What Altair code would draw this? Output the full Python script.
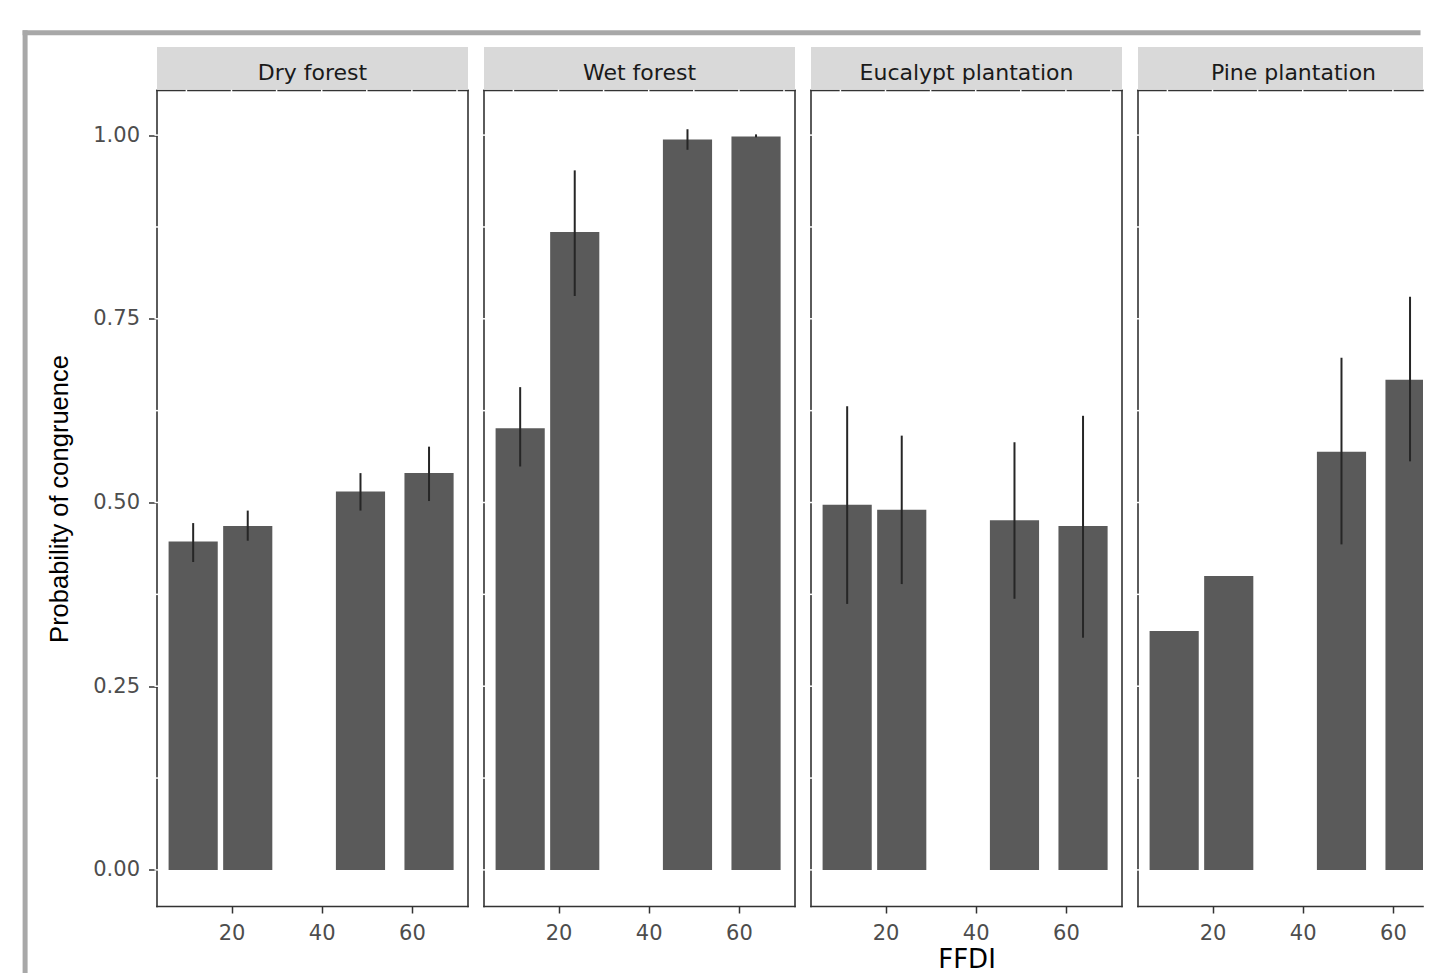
import altair as alt
import pandas as pd

# ---- data ----
panels = ["Dry forest", "Wet forest", "Eucalypt plantation", "Pine plantation"]
ffdi = [11.5, 23.6, 48.6, 63.8]          # bar centres (FFDI)
bar_half = 5.45                          # half bar width in FFDI units

dry_p = [0.447, 0.468, 0.515, 0.540]
dry_lo = [0.419, 0.448, 0.489, 0.502]
dry_hi = [0.472, 0.489, 0.540, 0.576]

wet_p = [0.601, 0.868, 0.994, 0.998]
wet_lo = [0.549, 0.781, 0.980, 0.997]
wet_hi = [0.657, 0.952, 1.008, 1.001]

euc_p = [0.497, 0.490, 0.476, 0.468]
euc_lo = [0.362, 0.389, 0.369, 0.316]
euc_hi = [0.631, 0.591, 0.582, 0.618]

pine_p = [0.325, 0.400, 0.569, 0.667]
pine_lo = [None, None, 0.443, 0.556]
pine_hi = [None, None, 0.697, 0.780]

y_ticks = [0.0, 0.25, 0.5, 0.75, 1.0]
x_ticks = [20, 40, 60]
x_grid = [10, 20, 30, 40, 50, 60, 70]
y_grid = [0.0, 0.125, 0.25, 0.375, 0.5, 0.625, 0.75, 0.875, 1.0]

series = {
    "Dry forest": (dry_p, dry_lo, dry_hi),
    "Wet forest": (wet_p, wet_lo, wet_hi),
    "Eucalypt plantation": (euc_p, euc_lo, euc_hi),
    "Pine plantation": (pine_p, pine_lo, pine_hi),
}

rows = []
for name in panels:
    p, lo, hi = series[name]
    for f, pv, l, h in zip(ffdi, p, lo, hi):
        rows.append({"panel": name, "ffdi": f, "x0": f - bar_half, "x1": f + bar_half,
                     "p": pv, "lo": l, "hi": h})
df = pd.DataFrame(rows)

W, H = 311, 816
W_LAST = 285                      # last panel is cut by the picture edge
X0, X1 = 3.48, 72.44
PX_PER_UNIT = W / (X1 - X0)
YDOM = [-0.0498, 1.0607]
FONT = "DejaVu Sans"
BORDER = "#333333"


def panel(i, name):
    d = df[df.panel == name]
    derr = d.dropna(subset=["lo", "hi"])
    w = W if i < 3 else W_LAST
    xmax = X0 + w / PX_PER_UNIT
    xs = alt.Scale(domain=[X0, xmax], nice=False, zero=False)
    ys = alt.Scale(domain=YDOM, nice=False, zero=False)
    xtitle = "FFDI" if i == 2 else None
    ytitle = "Probability of congruence" if i == 0 else None
    x_axis = alt.Axis(values=x_ticks, title=xtitle, tickSize=6.5, labelPadding=9,
                      titleFont=FONT, titleFontSize=26, titleFontWeight="normal",
                      titleColor="#000000", titleBaseline="alphabetic", titleY=60.8)
    if i == 0:
        y_axis = alt.Axis(values=y_ticks, format=".2f", title=ytitle, tickSize=8.5,
                          labelPadding=9, titleFont="Liberation Sans", titleFontSize=25.5,
                          titleFontWeight="normal", titleColor="#000000", titlePadding=20)
    else:
        y_axis = None

    bars = alt.Chart(d).mark_bar(color="#5a5a5a", clip=True).encode(
        x=alt.X("x0:Q", scale=xs, axis=x_axis, title=xtitle),
        x2="x1:Q",
        y=alt.Y("p:Q", scale=ys, axis=y_axis, title=ytitle),
        y2=alt.datum(0),
    )
    errs = alt.Chart(derr).mark_rule(color="#262626", strokeWidth=2).encode(
        x=alt.X("ffdi:Q", scale=xs, title=xtitle),
        y=alt.Y("lo:Q", scale=ys, title=ytitle),
        y2="hi:Q",
    )
    one = pd.DataFrame({"panel": [name]})
    bstyle = dict(color=BORDER, strokeWidth=1.6, strokeCap="square")
    b_top = alt.Chart(one).mark_rule(**bstyle).encode(x=alt.value(0), x2=alt.value(w), y=alt.value(0))
    b_bot = alt.Chart(one).mark_rule(**bstyle).encode(x=alt.value(0), x2=alt.value(w), y=alt.value(H))
    b_left = alt.Chart(one).mark_rule(**bstyle).encode(x=alt.value(0), y=alt.value(0), y2=alt.value(H))
    borders = [b_top, b_bot, b_left]
    if i < 3:
        borders.append(alt.Chart(one).mark_rule(**bstyle).encode(
            x=alt.value(w), y=alt.value(0), y2=alt.value(H)))
    gx = alt.Chart(pd.DataFrame({"g": x_grid})).transform_filter(
        f"datum.g < {xmax}").mark_rule(color="white", strokeWidth=1.5).encode(
        x=alt.X("g:Q", scale=xs, title=xtitle), y=alt.value(-2.5), y2=alt.value(2.5)
    )
    gy = alt.Chart(pd.DataFrame({"g": y_grid})).mark_rule(color="white", strokeWidth=1.5).encode(
        y=alt.Y("g:Q", scale=ys, title=ytitle), x=alt.value(-2.5), x2=alt.value(2.5)
    )
    strip = alt.Chart(one).mark_rect(color="#d9d9d9").encode(
        x=alt.value(0), x2=alt.value(w), y=alt.value(-43.5), y2=alt.value(-0.8)
    )
    strip_txt = alt.Chart(one).mark_text(font=FONT, fontSize=22, color="#1a1a1a",
                                         baseline="alphabetic", align="center").encode(
        x=alt.value(W / 2), y=alt.value(-10.7), text="panel:N"
    )
    layers = [bars, errs] + borders + [gx, gy, strip, strip_txt]
    if i == 0:
        fstyle = dict(color="#a8a8a8", strokeWidth=5, strokeCap="square")
        top = alt.Chart(one).mark_rule(**fstyle).encode(
            x=alt.value(-131.9), x2=alt.value(1261), y=alt.value(-57.7)
        )
        left = alt.Chart(one).mark_rule(**fstyle).encode(
            x=alt.value(-131.9), y=alt.value(-57.7), y2=alt.value(900)
        )
        layers += [top, left]
    return alt.layer(*layers).properties(width=w, height=H)


chart = alt.hconcat(*[panel(i, n) for i, n in enumerate(panels)], spacing=16, bounds="flush").properties(
    padding={"left": 13, "top": 20.5, "right": 0, "bottom": 0}
).configure_view(stroke="transparent").configure_axis(
    labelFont=FONT, labelFontSize=21, labelColor="#4d4d4d",
    tickColor="#333333", tickWidth=1.5, domain=False, grid=False,
)

chart.save("out.html", embed_options={"renderer": "svg", "actions": False})
